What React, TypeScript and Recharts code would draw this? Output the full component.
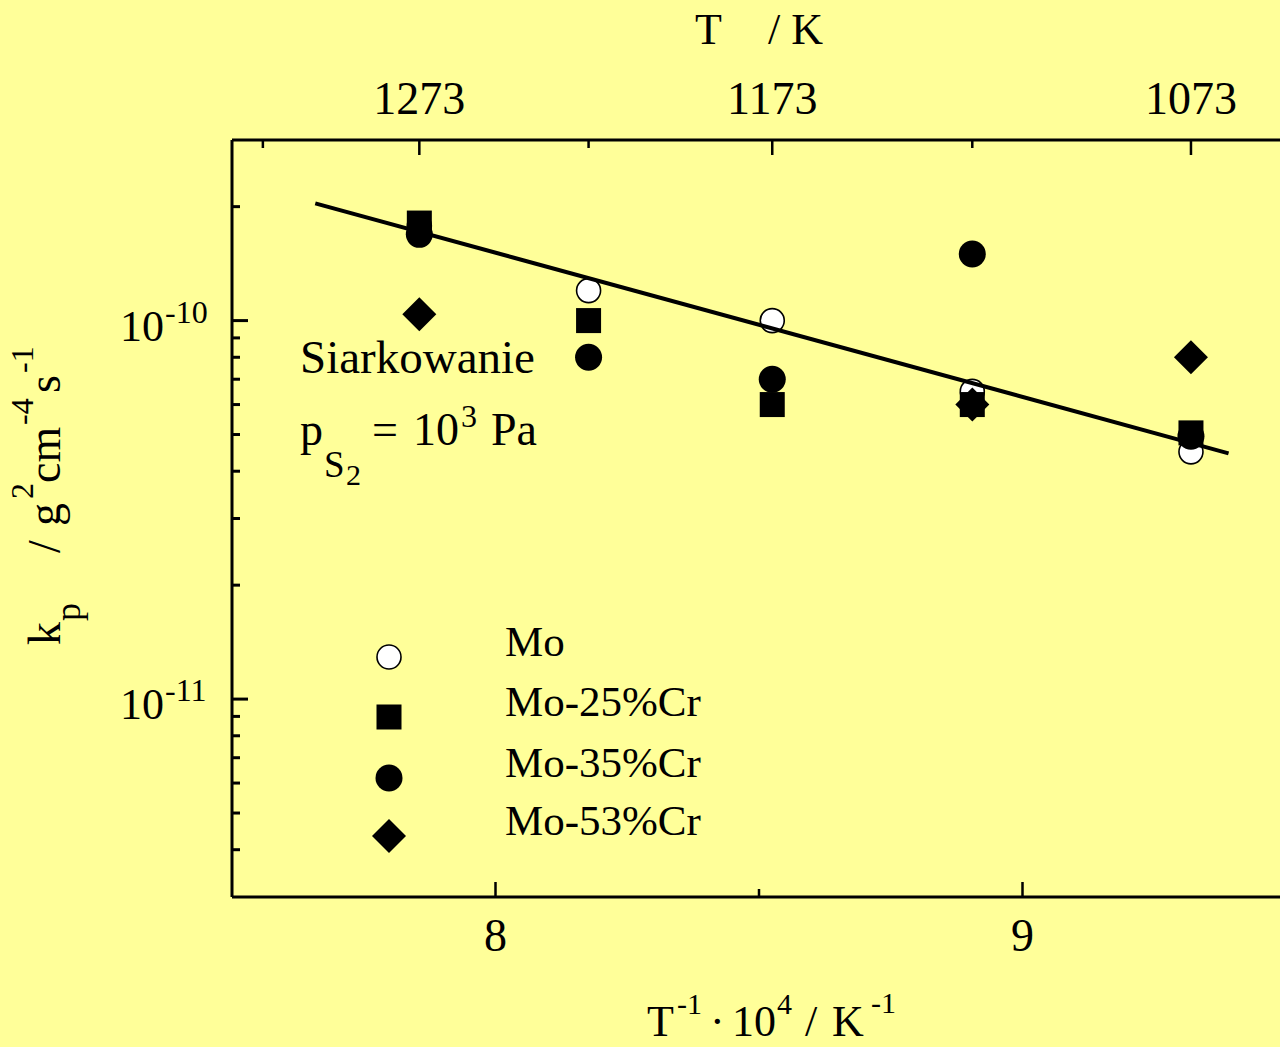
import React from 'react';
import { ScatterChart, Scatter, XAxis, YAxis } from 'recharts';

// measurement temperatures (K) and rate constants kp (g^2 cm^-4 s^-1)
const temps = [1273, 1223, 1173, 1123, 1073];
const moValues = [1.78e-10, 1.2e-10, 1.0e-10, 6.5e-11, 4.5e-11];
const mo25Values = [1.81e-10, 1.0e-10, 6.0e-11, 6.0e-11, 5.05e-11];
const mo35Values = [1.69e-10, 8.0e-11, 7.0e-11, 1.5e-10, 4.95e-11];
const mo53Temps = [1273, 1123, 1073];
const mo53Values = [1.04e-10, 6.0e-11, 8.0e-11];

// fitted line (1e4/T, kp)
const fitX = [7.658, 9.391];
const fitY = [2.04e-10, 4.46e-11];

const seriesNames = ['Mo', 'Mo-25%Cr', 'Mo-35%Cr', 'Mo-53%Cr'];

const bottomTicks = [8, 8.5, 9];
const bottomLabels = [8, 9];
const topTempTicks = [1323, 1273, 1223, 1173, 1123, 1073];
const topTempLabels = [1273, 1173, 1073];
const yMajorTicks = [1e-11, 1e-10];
const yMinorTicks = [
  4e-12, 5e-12, 6e-12, 7e-12, 8e-12, 9e-12,
  2e-11, 3e-11, 4e-11, 5e-11, 6e-11, 7e-11, 8e-11, 9e-11,
  2e-10,
];

const FONT = "'Liberation Serif', 'Times New Roman', serif";
const BG = '#ffff99';

const toPoints = (ts: number[], vs: number[]) => ts.map((t, i) => ({ x: 1e4 / t, y: vs[i] }));

const moData = toPoints(temps, moValues);
const mo25Data = toPoints(temps, mo25Values);
const mo35Data = toPoints(temps, mo35Values);
const mo53Data = toPoints(mo53Temps, mo53Values);
const fitData = fitX.map((x, i) => ({ x, y: fitY[i] }));

const near = (a: number, b: number) => Math.abs(a - b) / Math.abs(b) < 1e-6;

const OpenCircle = (p: any) => <circle cx={p.cx} cy={p.cy} r={12} fill="#fff" stroke="#000" strokeWidth={1.6} />;
const FilledSquare = (p: any) => <rect x={p.cx - 12.5} y={p.cy - 12.5} width={25} height={25} fill="#000" />;
const FilledCircle = (p: any) => <circle cx={p.cx} cy={p.cy} r={13.5} fill="#000" />;
const Diamond = (p: any) => (
  <polygon points={`${p.cx},${p.cy - 17} ${p.cx + 17},${p.cy} ${p.cx},${p.cy + 17} ${p.cx - 17},${p.cy}`} fill="#000" />
);
const NoShape = () => <g />;

const YTick = (props: any) => {
  const { x, y, payload } = props;
  const v = payload.value;
  const major = yMajorTicks.some((m) => near(v, m));
  return (
    <g>
      <line x1={x} x2={x + (major ? 16 : 8)} y1={y} y2={y} stroke="#000" strokeWidth={3} />
      {major && (
        <text fontFamily={FONT} fill="#000">
          <tspan x={x - 112} y={y + 20} fontSize={44}>10</tspan>
          <tspan x={x - 67} y={y + 2} fontSize={32}>{Math.round(Math.log10(v))}</tspan>
        </text>
      )}
    </g>
  );
};

const BottomTick = (props: any) => {
  const { x, y, payload } = props;
  const v = payload.value;
  const major = bottomLabels.some((m) => near(v, m));
  return (
    <g>
      <line x1={x} x2={x} y1={y} y2={y - (major ? 15 : 8)} stroke="#000" strokeWidth={2.5} />
      {major && (
        <text x={x} y={y + 54} textAnchor="middle" fontFamily={FONT} fontSize={46} fill="#000">
          {v}
        </text>
      )}
    </g>
  );
};

const TopTick = (props: any) => {
  const { x, y, payload } = props;
  const t = Math.round(1e4 / payload.value);
  const major = topTempLabels.includes(t);
  return (
    <g>
      <line x1={x} x2={x} y1={y} y2={y + (major ? 15 : 8)} stroke="#000" strokeWidth={2.5} />
      {major && (
        <text x={x} y={y - 26} textAnchor="middle" fontFamily={FONT} fontSize={46} fill="#000">
          {t}
        </text>
      )}
    </g>
  );
};

const legendShapes = [OpenCircle, FilledSquare, FilledCircle, Diamond];
const legendY = [657, 717, 778, 836];

export default function App() {
  return (
    <div style={{ position: 'absolute', left: 0, top: 0, width: 1280, height: 1047, overflow: 'hidden', background: BG }}>
      <ScatterChart width={1300} height={1047} margin={{ top: 80, right: 14, bottom: 90, left: 152 }}>
        <XAxis
          xAxisId="bottom"
          type="number"
          dataKey="x"
          domain={[7.5, 9.5]}
          ticks={bottomTicks}
          interval={0}
          height={60}
          tickSize={0}
          tickMargin={0}
          tick={<BottomTick />}
          axisLine={{ stroke: '#000', strokeWidth: 3 }}
          allowDataOverflow
        />
        <XAxis
          xAxisId="top"
          orientation="top"
          type="number"
          dataKey="x"
          domain={[7.5, 9.5]}
          ticks={topTempTicks.map((t) => 1e4 / t)}
          interval={0}
          height={60}
          tickSize={0}
          tickMargin={0}
          tick={<TopTick />}
          axisLine={{ stroke: '#000', strokeWidth: 3 }}
          allowDataOverflow
        />
        <YAxis
          type="number"
          dataKey="y"
          scale="log"
          domain={[3e-12, 3e-10]}
          ticks={[...yMinorTicks, ...yMajorTicks].sort((a, b) => a - b)}
          interval={0}
          width={80}
          tickSize={0}
          tickMargin={0}
          tick={<YTick />}
          axisLine={{ stroke: '#000', strokeWidth: 3 }}
          allowDataOverflow
        />
        <Scatter name={seriesNames[0]} xAxisId="bottom" data={moData} shape={OpenCircle} isAnimationActive={false} />
        <Scatter name={seriesNames[1]} xAxisId="bottom" data={mo25Data} shape={FilledSquare} isAnimationActive={false} />
        <Scatter name={seriesNames[2]} xAxisId="bottom" data={mo35Data} shape={FilledCircle} isAnimationActive={false} />
        <Scatter name={seriesNames[3]} xAxisId="bottom" data={mo53Data} shape={Diamond} isAnimationActive={false} />
        <Scatter
          name="fit"
          xAxisId="bottom"
          data={fitData}
          shape={NoShape}
          line={{ stroke: '#000', strokeWidth: 4 }}
          legendType="none"
          isAnimationActive={false}
        />
      </ScatterChart>

      <svg width={1280} height={1047} style={{ position: 'absolute', left: 0, top: 0, pointerEvents: 'none' }} fontFamily={FONT} fill="#000">
        {/* top axis title */}
        <text fontSize={44}>
          <tspan x={695} y={44}>T</tspan>
          <tspan x={768} y={44}>/ K</tspan>
        </text>

        {/* bottom axis title */}
        <text fontSize={44}>
          <tspan x={647} y={1036}>T</tspan>
          <tspan x={677} y={1014} fontSize={30}>-1</tspan>
          <tspan x={710} y={1036}>·</tspan>
          <tspan x={732} y={1036}>10</tspan>
          <tspan x={777} y={1014} fontSize={30}>4</tspan>
          <tspan x={805} y={1036}>/</tspan>
          <tspan x={832} y={1036}>K</tspan>
          <tspan x={871} y={1013} fontSize={30}>-1</tspan>
        </text>

        {/* left axis title */}
        <text transform="translate(60,645) rotate(-90)" fontSize={46}>
          <tspan x={0} y={0}>k</tspan>
          <tspan x={24} y={20} fontSize={36}>p</tspan>
          <tspan x={92} y={0}>/</tspan>
          <tspan x={119} y={0}>g</tspan>
          <tspan x={146} y={-27} fontSize={32}>2</tspan>
          <tspan x={162} y={0}>cm</tspan>
          <tspan x={220} y={-27} fontSize={32}>-4</tspan>
          <tspan x={252} y={0}>s</tspan>
          <tspan x={272} y={-27} fontSize={32}>-1</tspan>
        </text>

        {/* annotation */}
        <text x={300} y={373} fontSize={47}>Siarkowanie</text>
        <text fontSize={46}>
          <tspan x={300} y={445}>p</tspan>
          <tspan x={324} y={477} fontSize={37}>S</tspan>
          <tspan x={346} y={485} fontSize={30}>2</tspan>
          <tspan x={372} y={445}>=</tspan>
          <tspan x={413} y={445}>10</tspan>
          <tspan x={461} y={427} fontSize={32}>3</tspan>
          <tspan x={491} y={445}>Pa</tspan>
        </text>

        {/* legend */}
        {seriesNames.map((name, i) => {
          const Shape = legendShapes[i];
          return (
            <g key={name}>
              <Shape cx={389} cy={legendY[i]} />
              <text x={505} y={legendY[i] - 1} fontSize={43}>{name}</text>
            </g>
          );
        })}
      </svg>
    </div>
  );
}
